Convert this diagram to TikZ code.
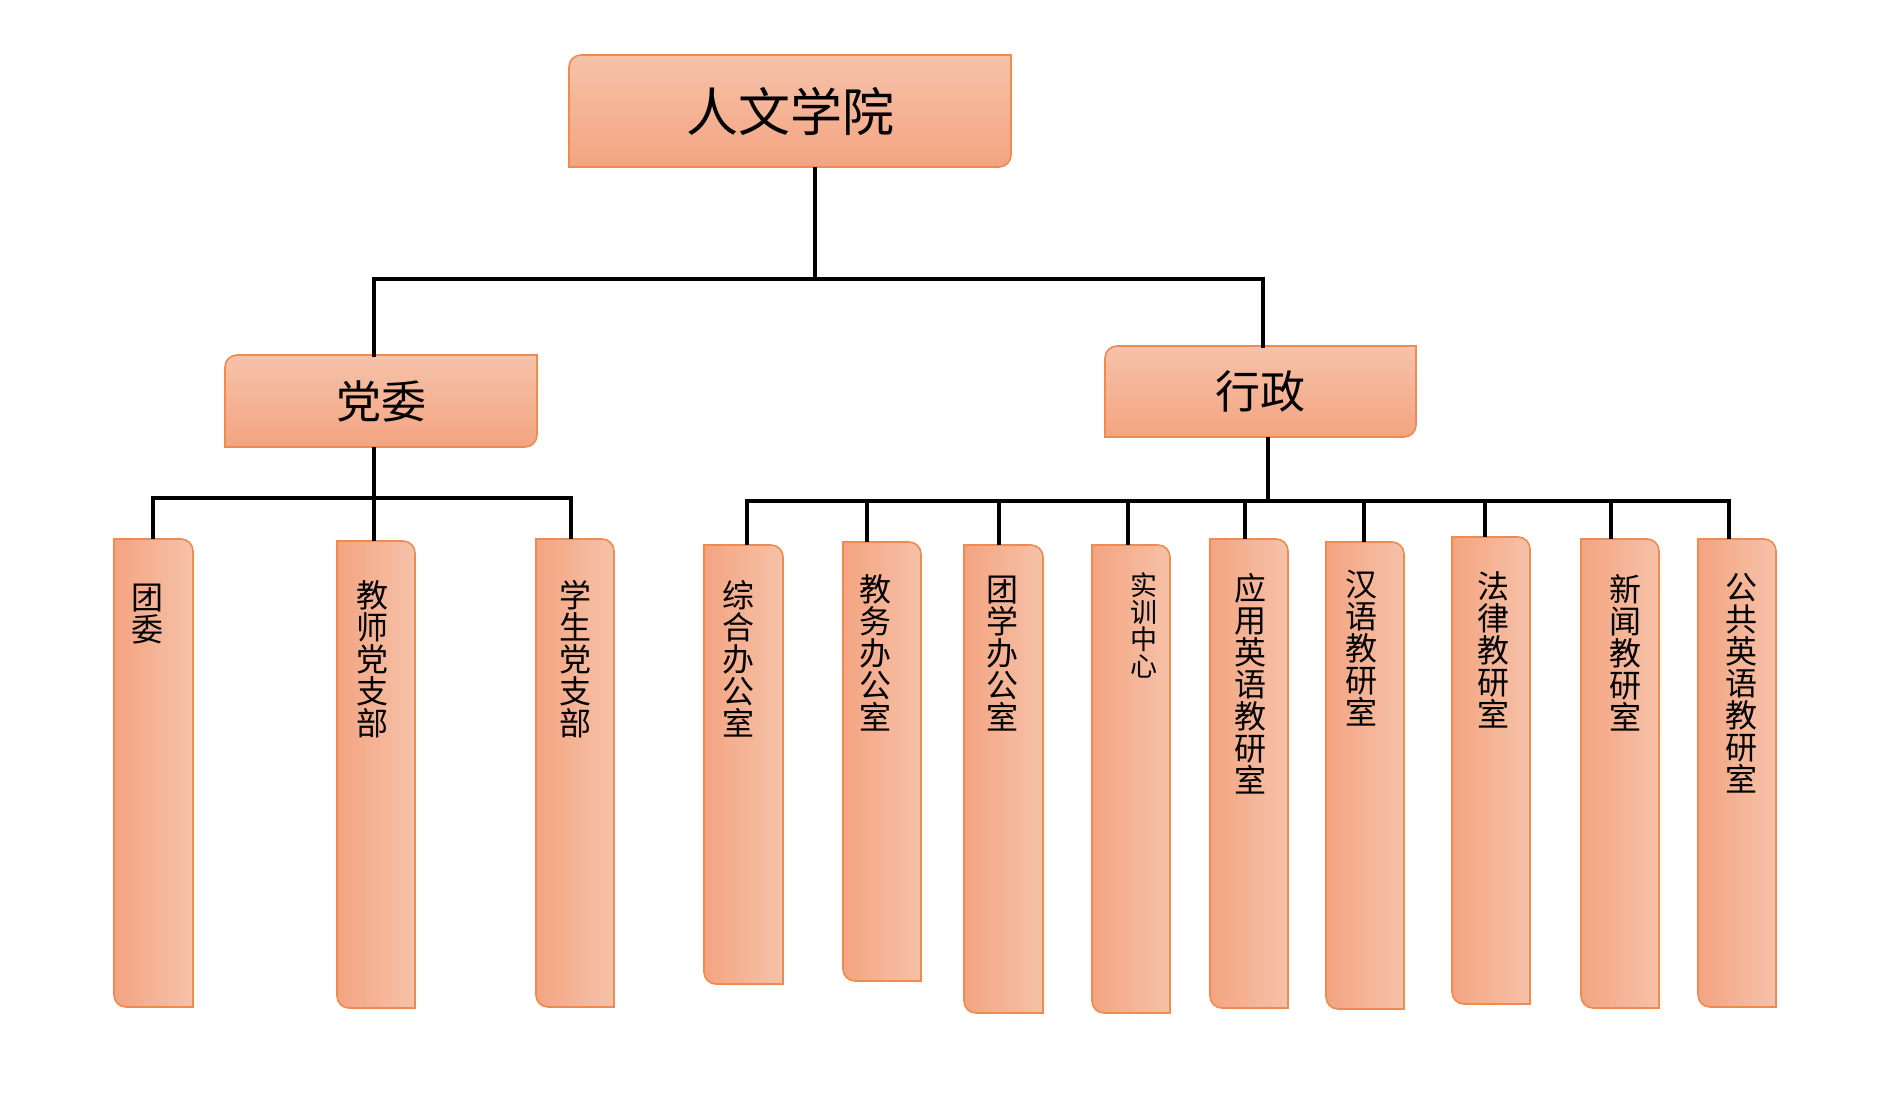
\documentclass[tikz,border=0pt]{standalone}
\usepackage{fontspec}
\newfontfamily\cjk{Noto Sans CJK SC}
\usetikzlibrary{calc}
\definecolor{boxdark}{HTML}{F3A481}
\definecolor{boxlight}{HTML}{F6C2A9}
\definecolor{boxedge}{HTML}{EE8B50}
\tikzset{
  conn/.style={line width=3.8pt, black},
  ghost/.style={inner sep=0pt, outer sep=0pt, draw=none},
  vtext/.style={inner sep=0pt, anchor=north, align=center},
  hshade/.style={draw=boxedge, line width=1.6pt, top color=boxlight, bottom color=boxdark},
  vshade/.style={draw=boxedge, line width=1.6pt, left color=boxdark, right color=boxlight},
}
% horizontal box: name, x1, y1, x2, y2 (image coords), text, font size
\newcommand\hboxnode[7]{%
  \node[ghost, minimum width={(#4-#2)*1pt}, minimum height={(#5-#3)*1pt}] (#1) at ({(#2+#4)/2},{(#3+#5)/2}) {};
  \path[hshade] (#1.north west) ++(0,-12pt) arc[start angle=180, end angle=90, radius=12pt]
     -- (#1.north east) -- ($(#1.south east)+(0,12pt)$) arc[start angle=0, end angle=-90, radius=12pt]
     -- (#1.south west) -- cycle;
  \node[inner sep=0pt, font=\cjk\fontsize{#7}{#7}\selectfont] (#1-t) at (#1) {#6};
}
% vertical box: name, x1, y1, x2, y2, text, text x, text top y, size
\newcommand\leafnode[9]{%
  \node[ghost, minimum width={(#4-#2)*1pt}, minimum height={(#5-#3)*1pt}] (#1) at ({(#2+#4)/2},{(#3+#5)/2}) {};
  \path[vshade] (#1.north west) -- ($(#1.north east)+(-12pt,0)$) arc[start angle=90, end angle=0, radius=12pt]
     -- (#1.south east) -- ($(#1.south west)+(12pt,0)$) arc[start angle=270, end angle=180, radius=12pt]
     -- cycle;
  \node[vtext, font=\cjk\fontsize{#9}{#9}\selectfont] (#1-t) at (#7,#8) {#6};
}
\begin{document}
\begin{tikzpicture}[x=1pt,y=-1pt]
\useasboundingbox (0,0) rectangle (1888,1099);
\fill[white] (0,0) rectangle (1888,1099);

\hboxnode{root}{569}{55}{1011}{167}{人文学院}{52}
\hboxnode{party}{225}{355}{537}{447}{党委}{45}
\hboxnode{admin}{1105}{346}{1416}{437}{行政}{45}

\leafnode{l1}{114}{539}{193}{1007}{团\\委}{147}{584}{32}
\leafnode{l2}{337}{541}{415}{1008}{教\\师\\党\\支\\部}{372}{580}{32}
\leafnode{l3}{536}{539}{614}{1007}{学\\生\\党\\支\\部}{575}{580}{32}

\leafnode{r1}{704}{545}{783}{984}{综\\合\\办\\公\\室}{738}{580}{32}
\leafnode{r2}{843}{542}{921}{981}{教\\务\\办\\公\\室}{875}{574}{32}
\leafnode{r3}{964}{545}{1043}{1013}{团\\学\\办\\公\\室}{1002}{576}{32}
\leafnode{r4}{1092}{545}{1170}{1013}{实\\训\\中\\心}{1144}{572}{27}
\leafnode{r5}{1210}{539}{1288}{1008}{应\\用\\英\\语\\教\\研\\室}{1250}{573}{32}
\leafnode{r6}{1326}{542}{1404}{1009}{汉\\语\\教\\研\\室}{1361}{570}{32}
\leafnode{r7}{1452}{537}{1530}{1004}{法\\律\\教\\研\\室}{1493}{571}{32}
\leafnode{r8}{1581}{539}{1659}{1008}{新\\闻\\教\\研\\室}{1625}{574}{32}
\leafnode{r9}{1698}{539}{1776}{1007}{公\\共\\英\\语\\教\\研\\室}{1741}{573}{32}

% top level connectors
\coordinate (tbus) at (815,279);
\draw[conn] (root.south -| tbus) -- (tbus);
\draw[conn, line cap=rect] (party.north -| 374,0) |- (tbus) -| (admin.north -| 1263,0);

% party bus
\coordinate (pbus) at (374,498);
\draw[conn] (party.south -| pbus) -- (pbus);
\draw[conn] (l1.north -| 153,0) -- (153,498) -- (571,498) -- (l3.north -| 571,0);
\draw[conn] (pbus) -- (l2.north -| pbus);

% admin bus
\coordinate (abus) at (1268,501);
\draw[conn] (admin.south -| abus) -- (abus);
\draw[conn] (r1.north -| 747,0) -- (747,501) -- (1729,501) -- (r9.north -| 1729,0);
\foreach \n/\x in {r2/867, r3/999, r4/1128, r5/1245, r6/1364, r7/1485, r8/1611}
  \draw[conn] (\x,501) -- (\n.north -| \x,0);
\end{tikzpicture}
\end{document}
